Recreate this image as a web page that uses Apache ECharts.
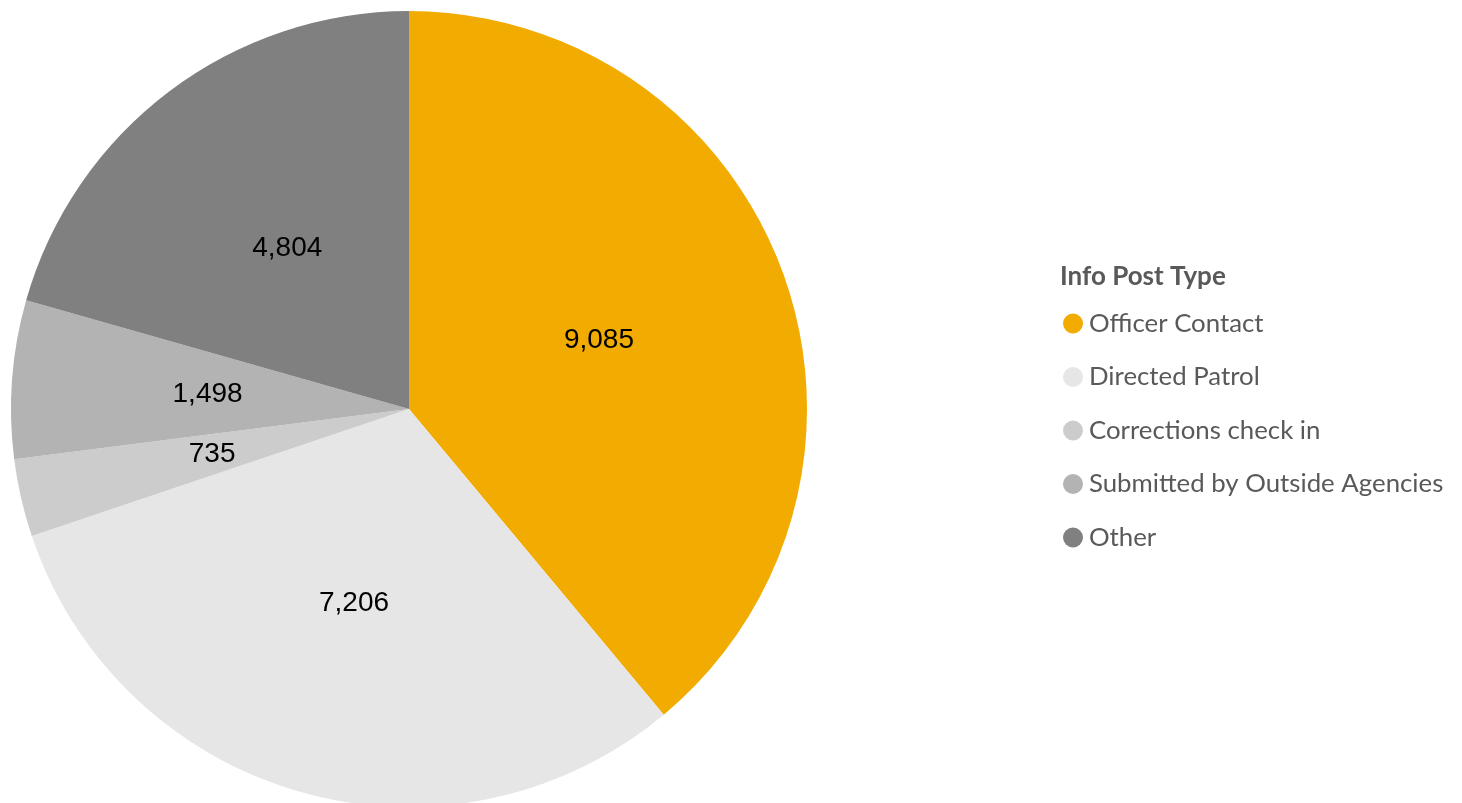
<!DOCTYPE html>
<html>
<head>
<meta charset="utf-8">
<script src="https://cdn.jsdelivr.net/npm/echarts@6/dist/echarts.min.js"></script>
<style>
  html, body { margin: 0; padding: 0; background: #fff; }
  #chart { width: 1462px; height: 803px; }
</style>
</head>
<body>
<div id="chart"></div>
<script>
// data
var categories = ['Officer Contact', 'Directed Patrol', 'Corrections check in', 'Submitted by Outside Agencies', 'Other'];
var values = [9085, 7206, 735, 1498, 4804];
var colors = ['#F2AB00', '#E6E6E6', '#CCCCCC', '#B3B3B3', '#808080'];

var myChart = echarts.init(document.getElementById('chart'));

var pieData = categories.map(function (name, i) {
    return { name: name, value: values[i], itemStyle: { color: colors[i] } };
});

myChart.setOption({
    animation: false,
    title: {
        text: 'Info Post Type',
        left: 1055,
        top: 259,
        textStyle: {
            fontFamily: 'Lato',
            fontWeight: 'bold',
            fontSize: 26,
            color: '#595959'
        }
    },
    legend: {
        orient: 'vertical',
        left: 1058,
        top: 305.5,
        icon: 'circle',
        itemWidth: 20,
        itemHeight: 20,
        itemGap: 27.5,
        data: categories,
        textStyle: {
            fontFamily: 'Lato',
            fontSize: 25.8,
            color: '#595959',
            padding: [0, 0, 0, 1]
        }
    },
    series: [
        {
            type: 'pie',
            center: [409, 409],
            radius: 398,
            startAngle: 90,
            clockwise: true,
            silent: true,
            label: {
                position: 'inside',
                color: '#000',
                fontFamily: 'Liberation Sans',
                fontSize: 28,
                formatter: function (p) {
                    return p.value.toLocaleString('en-US');
                }
            },
            labelLine: { show: false },
            itemStyle: { borderWidth: 0 },
            data: pieData
        }
    ]
});
</script>
</body>
</html>
